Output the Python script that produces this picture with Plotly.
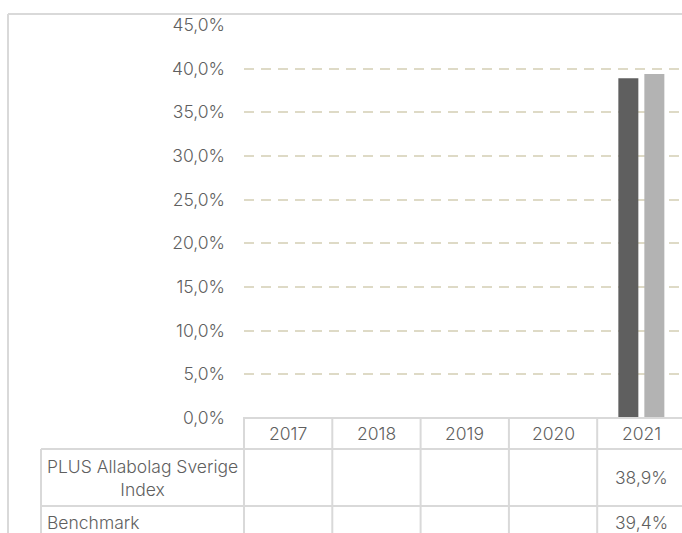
import plotly.graph_objects as go

# ---- data ----
years = ["2017", "2018", "2019", "2020", "2021"]
series_names = ["PLUS Allabolag Sverige<br>Index", "Benchmark"]
plus_index = [None, None, None, None, 0.389]
benchmark = [None, None, None, None, 0.394]
y_ticks = [0, 0.05, 0.10, 0.15, 0.20, 0.25, 0.30, 0.35, 0.40, 0.45]

# ---- layout constants (pixels) ----
W, H = 682, 533
PLOT_L, PLOT_T, PLOT_B = 244, 25, 418
CAT_W = 88.3
ROW1_T, ROW2_T = 449, 506
LABEL_L = 41
FRAME_X, FRAME_Y = 8, 14
GRID = "#d9d9d9"
TXT = "#5f5f5f"
FONT = dict(family="Inter, Roboto, sans-serif", size=17.5, color=TXT, weight=300)

def px(x):
    return x / W

def py(y):
    return 1 - y / H

x_max = -0.5 + (W - PLOT_L) / CAT_W

def cat_to_px(c):
    return PLOT_L + (c + 0.5) * CAT_W

def fmt(v):
    return "" if v is None else f"{v*100:.1f}%".replace(".", ",")

fig = go.Figure()
fig.add_trace(go.Bar(x=years, y=plus_index, name="PLUS Allabolag Sverige Index",
                     marker=dict(color="#5f5f5f", line=dict(width=0))))
fig.add_trace(go.Bar(x=years, y=benchmark, name="Benchmark",
                     marker=dict(color="#b3b3b3", line=dict(width=0))))

shapes = []
line = dict(color=GRID, width=2)
# outer frame
shapes.append(dict(type="line", xref="paper", yref="paper", x0=px(FRAME_X), x1=px(FRAME_X),
                   y0=py(FRAME_Y), y1=0, line=dict(color=GRID, width=2)))
shapes.append(dict(type="line", xref="paper", yref="paper", x0=px(FRAME_X), x1=1,
                   y0=py(FRAME_Y), y1=py(FRAME_Y), line=dict(color=GRID, width=2)))
# table horizontal lines
shapes.append(dict(type="line", xref="paper", yref="paper", x0=px(PLOT_L - 1), x1=1,
                   y0=py(PLOT_B), y1=py(PLOT_B), line=line))
for yy in (ROW1_T, ROW2_T):
    shapes.append(dict(type="line", xref="paper", yref="paper", x0=px(LABEL_L), x1=1,
                       y0=py(yy), y1=py(yy), line=line))
# table vertical lines
shapes.append(dict(type="line", xref="paper", yref="paper", x0=px(LABEL_L), x1=px(LABEL_L),
                   y0=py(ROW1_T), y1=0, line=line))
for i in range(len(years)):
    xb = cat_to_px(i - 0.5)
    if xb <= W:
        shapes.append(dict(type="line", xref="paper", yref="paper", x0=px(xb), x1=px(xb),
                           y0=py(PLOT_B), y1=0, line=line))

annotations = []
# header years
for i, yr in enumerate(years):
    annotations.append(dict(text=yr, xref="x", yref="paper", x=i, y=py((PLOT_B + ROW1_T) / 2),
                            showarrow=False, font=FONT, xanchor="center", yanchor="middle"))
# row labels
annotations.append(dict(text=series_names[0], xref="paper", yref="paper",
                        x=px((LABEL_L + PLOT_L) / 2), y=py((ROW1_T + ROW2_T) / 2),
                        showarrow=False, font=FONT, align="center",
                        xanchor="center", yanchor="middle"))
annotations.append(dict(text=series_names[1], xref="paper", yref="paper",
                        x=px(LABEL_L + 4), y=py(ROW2_T + 16),
                        showarrow=False, font=FONT, align="left",
                        xanchor="left", yanchor="middle"))
# values
for row_y, vals in ((py((ROW1_T + ROW2_T) / 2), plus_index), (py(ROW2_T + 16), benchmark)):
    for i, v in enumerate(vals):
        if v is not None:
            annotations.append(dict(text=fmt(v), xref="x", yref="paper", x=i, y=row_y,
                                    showarrow=False, font=FONT,
                                    xanchor="center", yanchor="middle"))

fig.update_layout(
    template="none",
    width=W, height=H, autosize=False,
    margin=dict(l=0, r=0, t=0, b=0, pad=0),
    paper_bgcolor="white", plot_bgcolor="white",
    separators=",.",
    showlegend=False,
    barmode="group", bargap=0.411, bargroupgap=0.231,
    shapes=shapes, annotations=annotations,
    xaxis=dict(domain=[px(PLOT_L), 1], range=[-0.5, x_max], type="category",
               showticklabels=False, showgrid=False, zeroline=False, showline=False,
               automargin=False, fixedrange=True),
    yaxis=dict(domain=[py(PLOT_B), py(PLOT_T)], range=[0, 0.45],
               tickvals=y_ticks, tickformat=".1%",
               showgrid=True, gridcolor="#dedac6", gridwidth=1.5, griddash="10px,7px",
               zeroline=False, showline=False, ticks="",
               ticklabelstandoff=18, tickfont=FONT, automargin=False, fixedrange=True),
)

fig.write_html("out.html")
